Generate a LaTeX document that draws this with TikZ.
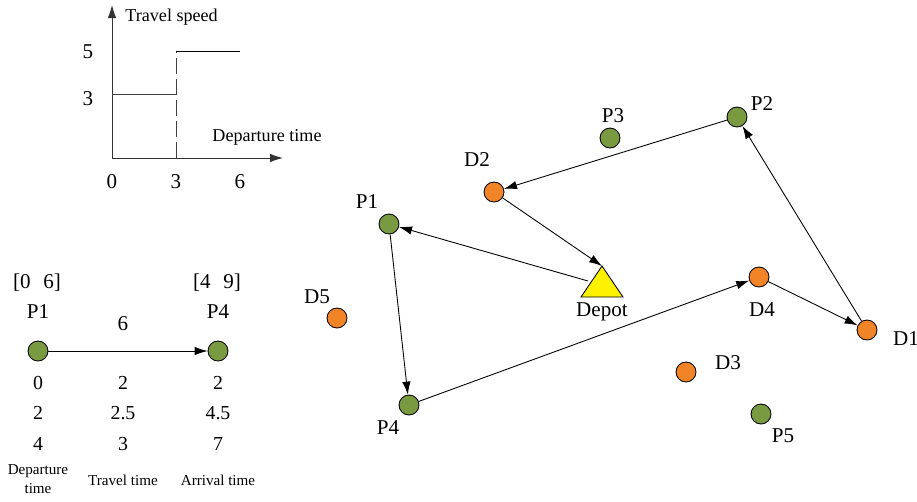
\documentclass[tikz,border=0pt]{standalone}
\usepackage{fontspec}
\setmainfont{Liberation Serif}
\usetikzlibrary{arrows.meta}

\definecolor{pgreen}{RGB}{122,154,66}
\definecolor{dorange}{RGB}{242,132,40}

\begin{document}
\begin{tikzpicture}[x=0.02cm,y=-0.02cm,line width=0.5pt,
  pick/.style={draw,circle,fill=pgreen,minimum size=0.4cm,inner sep=0pt},
  drop/.style={draw,circle,fill=dorange,minimum size=0.4cm,inner sep=0pt},
  lbl/.style={font=\fontsize{12}{14}\selectfont,inner sep=0pt},
  small/.style={font=\fontsize{10.3}{12}\selectfont,inner sep=0pt},
  cell/.style={font=\fontsize{11.3}{13}\selectfont,inner sep=0pt},
  tiny/.style={font=\fontsize{8.6}{10.5}\selectfont,inner sep=0pt,align=center},
  route/.style={-{Latex[length=2.6mm,width=1.7mm]}}]
\useasboundingbox (0,0) rectangle (917,501);

% speed chart
\coordinate (origin) at (112,158);
\coordinate (ytip) at (112,5);
\coordinate (xtip) at (283,158);
\draw[route,black!80] (origin) -- (ytip);
\draw[route,black!80] (origin) -- (xtip);
\node[small,anchor=west] (speed) at (125,17) {Travel speed};
\node[small] (dep) at (267,137) {Departure time};
\node[lbl] (v5) at (88,52) {5};
\node[lbl] (v3) at (88,99) {3};
\node[lbl] (t0) at (112,182) {0};
\node[lbl] (t3) at (176,182) {3};
\node[lbl] (t6) at (240,182) {6};
\draw[black!75] (112,94) -- (176,94);
\draw[dash pattern=on 9pt off 3pt,black!75] (176,158) -- (176,51);
\draw (176,51) -- (240,51);

% example arc
\node[pick] (a) at (38,351) {};
\node[pick] (b) at (218,351) {};
\draw[route] (a) -- (b);
\node[lbl] (wa) at (37,283) {[0\hspace{0.6em}6]};
\node[lbl] (wb) at (217,283) {[4\hspace{0.6em}9]};
\node[lbl] (na) at (38,312) {P1};
\node[lbl] (nb) at (218,312) {P4};
\node[lbl] (dist) at (123,324) {6};
\foreach \y/\d/\t/\r in {383/0/2/2, 413/2/2.5/4.5, 444/4/3/7} {
  \node[cell] at (38,\y) {\d};
  \node[cell] at (123,\y) {\t};
  \node[cell] at (218,\y) {\r};
}
\node[tiny] (cd) at (38,479) {Departure\\time};
\node[tiny] (ct) at (123,480) {Travel time};
\node[tiny] (ca) at (218,480) {Arrival time};

% depot
\coordinate (dtop) at (602,266);
\coordinate (dleft) at (588,281);
\draw[fill=yellow] (581,297) -- (dtop) -- (623,297) -- cycle;
\node[lbl] (depot) at (602,312) {Depot};

% customers
\node[pick] (p1) at (389,224) {};
\node[pick] (p2) at (737,117) {};
\node[pick] (p3) at (610,138) {};
\node[pick] (p4) at (409,405) {};
\node[pick] (p5) at (761,414) {};
\node[drop] (d1) at (867,330) {};
\node[drop] (d2) at (494,192) {};
\node[drop] (d3) at (686,372) {};
\node[drop] (d4) at (759,277) {};
\node[drop] (d5) at (337,318) {};
\node[lbl] at (367,202) {P1};
\node[lbl] at (762,104) {P2};
\node[lbl] at (613,116) {P3};
\node[lbl] at (388,428) {P4};
\node[lbl] at (783,436) {P5};
\node[lbl] at (906,339) {D1};
\node[lbl] at (477,160) {D2};
\node[lbl] at (728,363) {D3};
\node[lbl] at (762,310) {D4};
\node[lbl] at (317,297) {D5};

% route
\draw[route] (p2) -- (d2);
\draw[route] (d2) -- (dtop);
\draw[route] (dleft) -- (p1);
\draw[route] (p1) -- (p4);
\draw[route] (p4) -- (d4);
\draw[route] (d4) -- (d1);
\draw[route] (d1) -- (p2);

\end{tikzpicture}
\end{document}
